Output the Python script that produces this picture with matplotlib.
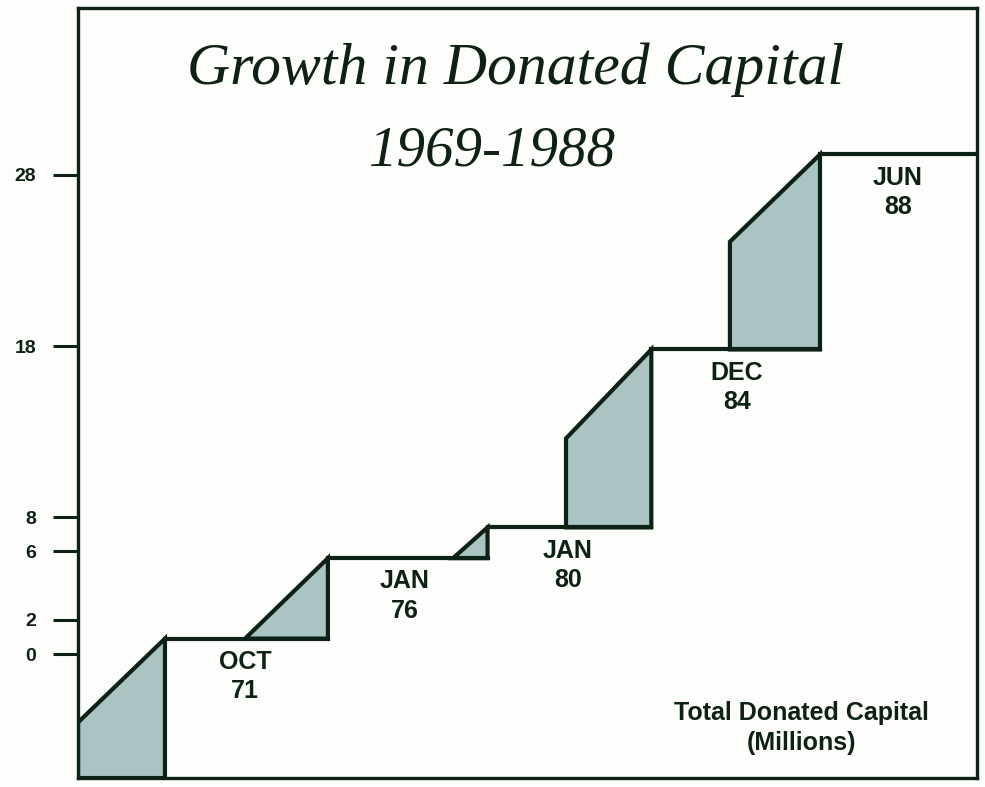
import matplotlib.pyplot as plt
from matplotlib.patches import Polygon

# step chart data (x in "period" units, y in $ millions)
step_x = [1.0, 1.995, 2.97, 3.97, 5.0]          # where each jump is completed
ramp_start_x = [0.469, 1.489, 2.759, 3.449, 4.45]
ramp_start_val = [-4.0, 0.9, 5.6, 12.6, 24.1]
levels = [0.9, 5.6, 7.4, 17.8, 29.2]            # plateau after each jump

period_labels = ["OCT\n71", "JAN\n76", "JAN\n80", "DEC\n84", "JUN\n88"]
label_x = [1.489, 2.466, 3.461, 4.493, 5.476]

y_ticks = [0, 2, 6, 8, 18, 28]

ink = "#0e2116"
fill = "#a9c4c2"
bg = "#fdfdfb"

fig = plt.figure(figsize=(9.85, 7.87), dpi=100, facecolor=bg)
ax = fig.add_axes([0.0792, 0.0114, 0.9127, 0.9784], facecolor=bg)

x_left, x_right = 0.469, 5.959
y_bottom, y_top = -7.25, 37.76
ax.set_xlim(x_left, x_right)
ax.set_ylim(y_bottom, y_top)

# shaded ramps with outline
for i in range(len(step_x)):
    base = y_bottom if i == 0 else levels[i - 1]
    poly = Polygon([(ramp_start_x[i], base), (ramp_start_x[i], ramp_start_val[i]),
                    (step_x[i], levels[i]), (step_x[i], base)],
                   closed=True, facecolor=fill, edgecolor=ink, linewidth=3,
                   joinstyle="miter", zorder=2)
    ax.add_patch(poly)

# plateaus
for i in range(len(step_x)):
    end = step_x[i + 1] if i + 1 < len(step_x) else x_right
    ax.plot([step_x[i], end], [levels[i], levels[i]], color=ink, lw=3,
            solid_capstyle="projecting", zorder=3)

# period labels just under each plateau
for i, lab in enumerate(period_labels):
    ax.annotate(lab, xy=(label_x[i], levels[i]), xytext=(0, -8),
                textcoords="offset points", ha="center", va="top",
                fontsize=18, fontweight="bold", color=ink,
                family="Liberation Sans", linespacing=1.3)

ax.set_xticks([])
ax.set_yticks(y_ticks)
ax.set_yticklabels([str(t) for t in y_ticks])
ax.tick_params(axis="y", length=18, width=2.2, color=ink, pad=12,
               labelsize=14, labelcolor=ink)
for lbl in ax.get_yticklabels():
    lbl.set_fontweight("bold")
    lbl.set_family("Liberation Sans")
for s in ax.spines.values():
    s.set_linewidth(2.4)
    s.set_color(ink)

# title
fig.text(0.523, 0.911, "Growth in Donated Capital", ha="center", va="center",
         fontsize=43, style="italic", family="Liberation Serif", color=ink)
fig.text(0.500, 0.807, "1969-1988", ha="center", va="center",
         fontsize=41, style="italic", family="Liberation Serif", color=ink)

fig.text(0.814, 0.075, "Total Donated Capital\n(Millions)", ha="center",
         va="center", fontsize=18, fontweight="bold", color=ink,
         family="Liberation Sans", linespacing=1.3)

fig.savefig("out.png", dpi=100, facecolor=bg)
